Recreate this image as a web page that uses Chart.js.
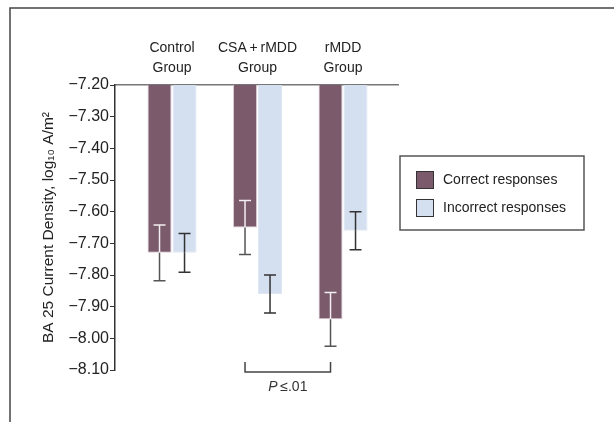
<!DOCTYPE html>
<html>
<head>
<meta charset="utf-8">
<script src="https://cdn.jsdelivr.net/npm/chart.js@4/dist/chart.umd.min.js"></script>
<style>
  body { margin: 0; background: #fff; }
  canvas { display: block; }
</style>
</head>
<body>
<canvas id="myChart" width="614" height="422"></canvas>
<script>
// values
var groupLabels = [['Control', 'Group'], ['CSA\u2009+\u2009rMDD', 'Group'], ['rMDD', 'Group']];
var seriesNames = ['Correct responses', 'Incorrect responses'];
var correctMeans = [-7.73, -7.65, -7.94];
var correctErr = [0.088, 0.085, 0.085];
var incorrectMeans = [-7.73, -7.86, -7.66];
var incorrectErr = [0.061, 0.06, 0.06];
var yTicks = [-8.10, -8.00, -7.90, -7.80, -7.70, -7.60, -7.50, -7.40, -7.30, -7.20];

var FONT = '"Liberation Sans", Arial, sans-serif';
var dark = '#7a5a6b';
var light = '#d4dff0';

function points(arr) {
    return arr.map(function(v, i) { return { x: i, y: v }; });
}

function minus(v) {
    return '\u2212' + Math.abs(v).toFixed(2);
}

var framePlugin = {
    id: 'frame',
    beforeDraw: function(chart) {
        var ctx = chart.ctx;
        ctx.save();
        ctx.strokeStyle = '#444';
        ctx.lineWidth = 1.5;
        ctx.beginPath();
        ctx.moveTo(10, chart.height);
        ctx.lineTo(10, 8);
        ctx.lineTo(chart.width, 8);
        ctx.stroke();
        ctx.restore();
    }
};

var errorPlugin = {
    id: 'errbars',
    afterDatasetsDraw: function(chart) {
        var ctx = chart.ctx;
        var y = chart.scales.y;
        var errs = [correctErr, incorrectErr];
        var means = [correctMeans, incorrectMeans];
        ctx.save();
        ctx.lineWidth = 1.5;
        for (var d = 0; d < 2; d++) {
            var meta = chart.getDatasetMeta(d);
            for (var i = 0; i < meta.data.length; i++) {
                var x = meta.data[i].x;
                var pm = y.getPixelForValue(means[d][i]);
                var pt = y.getPixelForValue(means[d][i] + errs[d][i]);
                var pb = y.getPixelForValue(means[d][i] - errs[d][i]);
                // upper half sits inside the bar
                ctx.strokeStyle = d === 0 ? '#f3eef1' : '#333';
                ctx.beginPath();
                ctx.moveTo(x, pm); ctx.lineTo(x, pt);
                ctx.moveTo(x - 6, pt); ctx.lineTo(x + 6, pt);
                ctx.stroke();
                ctx.strokeStyle = d === 0 ? '#555' : '#333';
                ctx.beginPath();
                ctx.moveTo(x, pm); ctx.lineTo(x, pb);
                ctx.moveTo(x - 6, pb); ctx.lineTo(x + 6, pb);
                ctx.stroke();
            }
        }
        ctx.restore();
    }
};

var extrasPlugin = {
    id: 'extras',
    afterDraw: function(chart) {
        var ctx = chart.ctx;
        var area = chart.chartArea;
        ctx.save();

        // legend box
        ctx.strokeStyle = '#555';
        ctx.lineWidth = 1.5;
        ctx.strokeRect(400, 156, 184, 74);
        var colors = [dark, light];
        ctx.font = '14px ' + FONT;
        ctx.textBaseline = 'middle';
        for (var k = 0; k < 2; k++) {
            var top = 171 + k * 28;
            ctx.fillStyle = colors[k];
            ctx.fillRect(416, top, 18, 18);
            ctx.strokeStyle = '#333';
            ctx.lineWidth = 1;
            ctx.strokeRect(416.5, top + 0.5, 17, 17);
            ctx.fillStyle = '#222';
            ctx.fillText(seriesNames[k], 443, top + 9);
        }

        // significance bracket between CSA+rMDD and rMDD correct bars
        var meta = chart.getDatasetMeta(0);
        var x1 = meta.data[1].x, x2 = meta.data[2].x;
        var yb = area.bottom + 2;
        ctx.strokeStyle = '#444';
        ctx.lineWidth = 1.5;
        ctx.beginPath();
        ctx.moveTo(x1, yb - 10); ctx.lineTo(x1, yb); ctx.lineTo(x2, yb); ctx.lineTo(x2, yb - 10);
        ctx.stroke();

        ctx.fillStyle = '#333';
        ctx.textBaseline = 'middle';
        var pText = 'P';
        var rest = '\u2009\u2264.01';
        ctx.font = 'italic 14px ' + FONT;
        var w1 = ctx.measureText(pText).width;
        ctx.font = '14px ' + FONT;
        var w2 = ctx.measureText(rest).width;
        var sx = (x1 + x2) / 2 - (w1 + w2) / 2;
        ctx.font = 'italic 14px ' + FONT;
        ctx.fillText(pText, sx, yb + 15);
        ctx.font = '14px ' + FONT;
        ctx.fillText(rest, sx + w1, yb + 15);

        ctx.restore();
    }
};

var ctx = document.getElementById('myChart').getContext('2d');
var myChart = new Chart(ctx, {
    type: 'bar',
    data: {
        datasets: [{
            label: seriesNames[0],
            data: points(correctMeans),
            backgroundColor: dark,
            borderColor: '#d9c9d2',
            borderWidth: 1
        }, {
            label: seriesNames[1],
            data: points(incorrectMeans),
            backgroundColor: light,
            borderColor: '#dfe7f3',
            borderWidth: 1
        }]
    },
    options: {
        responsive: false,
        animation: false,
        devicePixelRatio: 1,
        categoryPercentage: 0.585,
        barPercentage: 0.96,
        layout: { padding: { left: 0, right: 216, top: 0, bottom: 52 } },
        plugins: {
            legend: { display: false },
            tooltip: { enabled: false }
        },
        scales: {
            x: {
                type: 'linear',
                position: 'top',
                offset: false,
                min: -0.667,
                max: 2.643,
                afterFit: function(scale) { scale.height = 85; },
                grid: { display: true, drawOnChartArea: false, drawTicks: false, offset: false },
                border: { display: true, color: '#777', width: 1.5 },
                ticks: {
                    stepSize: 1,
                    includeBounds: false,
                    autoSkip: false,
                    maxRotation: 0,
                    padding: 7,
                    color: '#222',
                    font: { family: FONT, size: 14, lineHeight: 1.43 },
                    callback: function(v) { return groupLabels[v]; }
                }
            },
            y: {
                min: yTicks[0],
                max: yTicks[yTicks.length - 1],
                afterBuildTicks: function(scale) {
                    scale.ticks = yTicks.map(function(v) { return { value: v }; });
                },
                afterFit: function(scale) { scale.width = 115; },
                grid: { display: true, drawOnChartArea: false, drawTicks: true, tickLength: 5, color: '#333', lineWidth: 1 },
                border: { display: true, color: '#333', width: 1.5 },
                title: {
                    display: true,
                    text: 'BA 25 Current Density, log\u2081\u2080 A/m\u00b2',
                    color: '#222',
                    font: { family: FONT, size: 15.5 },
                    padding: { top: 39, bottom: 0 }
                },
                ticks: {
                    padding: 1,
                    color: '#222',
                    font: { family: FONT, size: 16 },
                    callback: function(v) { return minus(v); }
                }
            }
        }
    },
    plugins: [framePlugin, errorPlugin, extrasPlugin]
});
</script>
</body>
</html>
